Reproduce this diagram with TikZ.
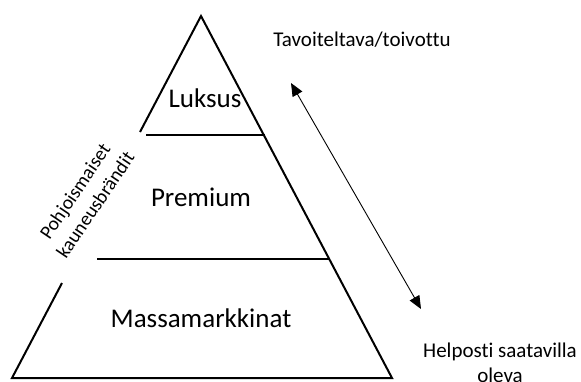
\documentclass[tikz,border=0pt]{standalone}
\usepackage{fontspec}
\setmainfont{Carlito}[Ligatures={NoCommon}]
\usetikzlibrary{arrows.meta}

\tikzset{
  tier edge/.style={line width=2pt},
  tier label/.style={font=\fontsize{27}{32}\selectfont, anchor=base},
  side label/.style={font=\fontsize{21}{25}\selectfont, align=center},
  brand label/.style={font=\fontsize{19.5}{24.5}\selectfont, align=center, rotate=56},
  reach arrow/.style={line width=0.9pt,
    {Triangle[length=13pt,width=11pt]}-{Triangle[length=13pt,width=11pt]}},
}

\begin{document}
\begin{tikzpicture}[x=1pt,y=-1pt]
\useasboundingbox (0,0) rectangle (581,381);

% pyramid corners
\coordinate (apex)   at (201,16);
\coordinate (luksusL) at (140,132);
\coordinate (baseR)  at (392,378);
\coordinate (baseL)  at (12,378);
\coordinate (massaL) at (62,283);

\draw[tier edge] (luksusL) -- (apex) -- (baseR) -- (baseL) -- (massaL);
\draw[tier edge] (146,135) -- (265,135);
\draw[tier edge] (97,259) -- (329,259);

% tiers
\node[tier label] (luksus)  at (205,107) {Luksus};
\node[tier label] (premium) at (201,206) {Premium};
\node[tier label] (massa)   at (201,327) {Massamarkkinat};

\node[brand label] (pohjoismaiset) at (85,198) {Pohjoismaiset\\kauneusbrändit};

% scale from wanted to available
\node[side label, anchor=base] (toivottu) at (362,46) {Tavoiteltava/toivottu};
\node[side label, anchor=base] (saatavilla) at (500,382) {Helposti saatavilla\\oleva};

\coordinate (top end) at (291,83);
\coordinate (low end) at (421,309);
\draw[reach arrow] (top end) -- (low end);
\end{tikzpicture}
\end{document}
